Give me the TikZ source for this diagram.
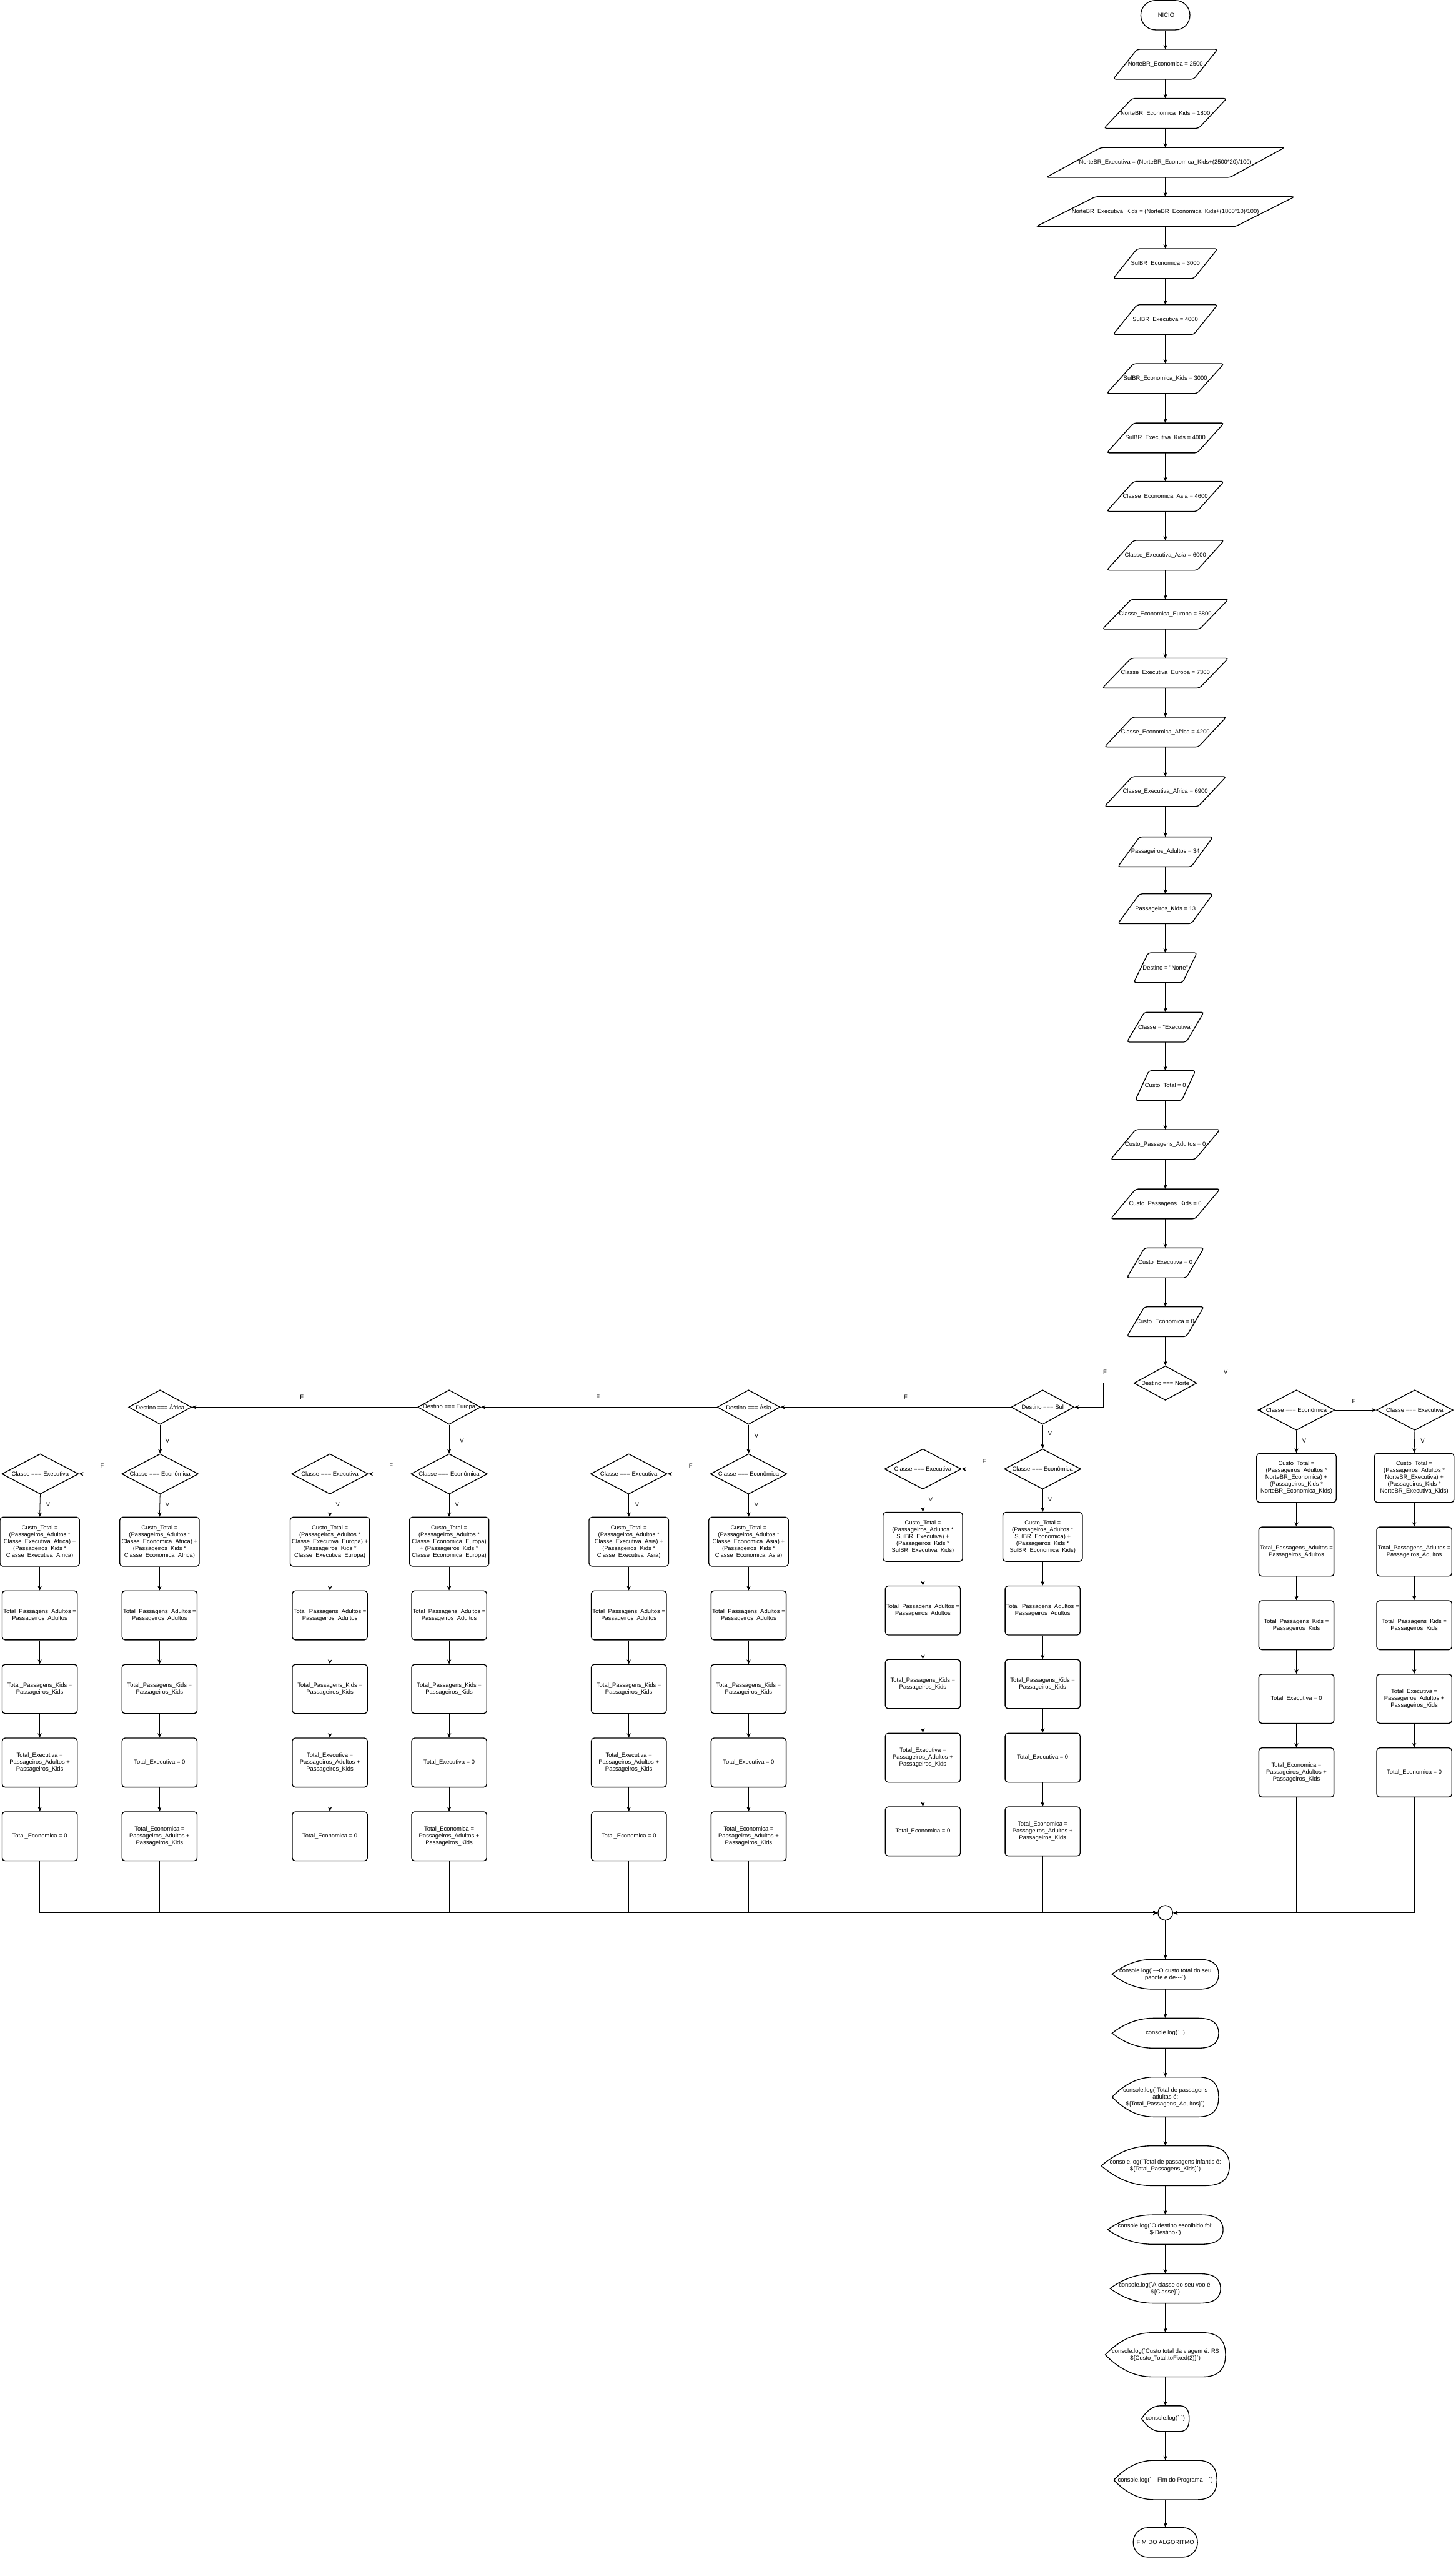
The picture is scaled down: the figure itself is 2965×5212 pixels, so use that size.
\documentclass[tikz,border=0pt]{standalone}
\usepackage{fontspec}
\setmainfont{Liberation Sans}[Ligatures=TeXOff]
\usetikzlibrary{arrows.meta,shapes.geometric,calc}
\newcommand\fs{\fontsize{6pt}{7pt}\selectfont}
% parallelogram: name, y, width(px), text
\newcommand\para[4]{%
  \node[txt, minimum width={#3*0.5pt}, minimum height=30pt] (#1) at (2374,#2) {#4};
  \draw[shp, rounded corners=2.5pt] ([xshift={0.115pt*#3}]#1.north west) -- (#1.north east)
     -- ([xshift={-0.115pt*#3}]#1.south east) -- (#1.south west) -- cycle;}
% display shape: name, y, w, h, text
\newcommand\disp[5]{%
  \node[txt, minimum width={#3*0.5pt}, minimum height={#4*0.5pt}] (#1) at (2374,#2) {#5};
  \begin{scope}[shift={(2374,#2)}]
  \draw[shp] ({-0.5*#3},0) .. controls ({-0.38*#3},{-#4/3}) and ({-0.25*#3},{-#4/2}) .. ({-0.11*#3},{-#4/2})
     -- ({0.31*#3},{-#4/2}) .. controls ({0.437*#3},{-#4/2}) and ({0.5*#3},{-#4/3}) .. ({0.5*#3},0)
     .. controls ({0.5*#3},{#4/3}) and ({0.437*#3},{#4/2}) .. ({0.31*#3},{#4/2})
     -- ({-0.11*#3},{#4/2}) .. controls ({-0.25*#3},{#4/2}) and ({-0.38*#3},{#4/3}) .. ({-0.5*#3},0) -- cycle;
  \end{scope}}
% column of five boxes: prefix, x, y, custo text, total exec, total econ
\newcommand\col[6]{%
  \node[cbox] (#1c) at (#2,#3) {#4};
  \node[box] (#1a) at (#2,#3+150) {Total\_Passagens\_Adultos =\\Passageiros\_Adultos};
  \node[box] (#1k) at (#2,#3+300) {Total\_Passagens\_Kids =\\Passageiros\_Kids};
  \node[box] (#1x) at (#2,#3+450) {#5};
  \node[box] (#1e) at (#2,#3+600) {#6};
  \draw[conn] (#1c) -- (#1a);
  \draw[conn] (#1a) -- (#1k);
  \draw[conn] (#1k) -- (#1x);
  \draw[conn] (#1x) -- (#1e);}
\newcommand\exzero{Total\_Executiva = 0}
\newcommand\exsum{Total\_Executiva =\\Passageiros\_Adultos +\\Passageiros\_Kids}
\newcommand\eczero{Total\_Economica = 0}
\newcommand\ecsum{Total\_Economica =\\Passageiros\_Adultos +\\Passageiros\_Kids}
\newcommand\custo[2]{Custo\_Total =\\(Passageiros\_Adultos *\\#1) +\\(Passageiros\_Kids *\\#2)}
\begin{document}
\begin{tikzpicture}[x=0.5pt,y=-0.5pt,
  shp/.style={draw=black, line width=0.85pt},
  txt/.style={font=\fs, align=center, inner sep=0pt, text=black},
  conn/.style={draw=black, line width=0.5pt, -{Stealth[length=4.5pt,width=4pt,inset=1.4pt]}},
  lbl/.style={font=\fs, inner sep=0pt, text=black},
  box/.style={shp, rounded corners=3pt, align=center, font=\fs, text=black, minimum width=76.5pt, minimum height=50pt, inner sep=0pt},
  cbox/.style={box, minimum width=81pt},
  dia/.style={shp, diamond, inner sep=0pt, minimum width=64pt, minimum height=35pt},
  cdia/.style={dia, minimum width=78pt, minimum height=41pt},
  term/.style={shp, rounded corners=14.9pt, minimum height=30pt, inner sep=0pt, font=\fs, text=black},
]
\fill[white] (0,0) rectangle (2965,5212);
\useasboundingbox (0,0) rectangle (2965,5212);

% ---------- main column ----------
\node[term, minimum width=50pt] (start) at (2374,31) {INICIO};
\para{p1}{131}{212}{NorteBR\_Economica = 2500}
\para{p2}{231}{249}{NorteBR\_Economica\_Kids = 1800}
\para{p3}{331}{485}{NorteBR\_Executiva = (NorteBR\_Economica\_Kids+(2500*20)/100)}
\para{p4}{431}{526}{NorteBR\_Executiva\_Kids = (NorteBR\_Economica\_Kids+(1800*10)/100)}
\para{p5}{537}{212}{SulBR\_Economica = 3000}
\para{p6}{651}{212}{SulBR\_Executiva = 4000}
\para{p7}{771}{238}{SulBR\_Economica\_Kids = 3000}
\para{p8}{892}{238}{SulBR\_Executiva\_Kids = 4000}
\para{p9}{1011}{238}{Classe\_Economica\_Asia = 4600}
\para{p10}{1131}{238}{Classe\_Executiva\_Asia = 6000}
\para{p11}{1251}{256}{Classe\_Economica\_Europa = 5800}
\para{p12}{1371}{256}{Classe\_Executiva\_Europa = 7300}
\para{p13}{1491}{247}{Classe\_Economica\_Africa = 4200}
\para{p14}{1612}{247}{Classe\_Executiva\_Africa = 6900}
\para{p15}{1735}{193}{Passageiros\_Adultos = 34}
\para{p16}{1851}{193}{Passageiros\_Kids = 13}
\para{p17}{1971}{128}{Destino = "Norte"}
\para{p18}{2092}{156}{Classe = "Executiva"}
\para{p19}{2211}{122}{Custo\_Total = 0}
\para{p20}{2331}{222}{Custo\_Passagens\_Adultos = 0}
\para{p21}{2452}{222}{Custo\_Passagens\_Kids = 0}
\para{p22}{2572}{156}{Custo\_Executiva = 0}
\para{p23}{2692}{156}{Custo\_Economica = 0}
\draw[conn] (start) -- (p1);
\foreach \a/\b in {p1/p2,p2/p3,p3/p4,p4/p5,p5/p6,p6/p7,p7/p8,p8/p9,p9/p10,p10/p11,p11/p12,p12/p13,p13/p14,p14/p15,p15/p16,p16/p17,p17/p18,p18/p19,p19/p20,p20/p21,p21/p22,p22/p23}
  \draw[conn] (\a.south) -- (\b.north);

% ---------- decisions ----------
\node[dia, label={[lbl]center:Destino === Norte}] (dn) at (2374,2817) {};
\draw[conn] (p23.south) -- (dn.north);
\node[dia, label={[lbl]center:Destino === Sul}] (dsul) at (2124,2866) {};
\node[dia, label={[lbl]center:Destino === Ásia}] (dasia) at (1525,2866) {};
\node[dia, label={[lbl]center:Destino === Europa}] (deur) at (915,2866) {};
\node[dia, label={[lbl]center:Destino === África}] (dafr) at (326,2866) {};

\node[cdia, label={[lbl]center:Classe === Econômica}] (neC) at (2641,2872) {};
\node[cdia, label={[lbl]center:Classe === Executiva}] (nxC) at (2882,2872) {};
\node[cdia, label={[lbl]center:Classe === Econômica}] (seC) at (2124,2992) {};
\node[cdia, label={[lbl]center:Classe === Executiva}] (sxC) at (1880,2992) {};
\node[cdia, label={[lbl]center:Classe === Econômica}] (aeC) at (1525,3002) {};
\node[cdia, label={[lbl]center:Classe === Executiva}] (axC) at (1281,3002) {};
\node[cdia, label={[lbl]center:Classe === Econômica}] (eeC) at (915,3002) {};
\node[cdia, label={[lbl]center:Classe === Executiva}] (exC) at (672,3002) {};
\node[cdia, label={[lbl]center:Classe === Econômica}] (feC) at (326,3002) {};
\node[cdia, label={[lbl]center:Classe === Executiva}] (fxC) at (82,3002) {};

% ---------- columns ----------
\col{NE}{2641}{3010}{\custo{NorteBR\_Economica}{NorteBR\_Economica\_Kids}}{\exzero}{\ecsum}
\col{NX}{2881}{3010}{\custo{NorteBR\_Executiva}{NorteBR\_Executiva\_Kids}}{\exsum}{\eczero}
\col{SE}{2124}{3130}{\custo{SulBR\_Economica}{SulBR\_Economica\_Kids}}{\exzero}{\ecsum}
\col{SX}{1880}{3130}{\custo{SulBR\_Executiva}{SulBR\_Executiva\_Kids}}{\exsum}{\eczero}
\col{AE}{1525}{3140}{\custo{Classe\_Economica\_Asia}{Classe\_Economica\_Asia}}{\exzero}{\ecsum}
\col{AX}{1281}{3140}{\custo{Classe\_Executiva\_Asia}{Classe\_Executiva\_Asia}}{\exsum}{\eczero}
\col{EE}{915}{3140}{Custo\_Total =\\(Passageiros\_Adultos *\\Classe\_Economica\_Europa)\\+ (Passageiros\_Kids *\\Classe\_Economica\_Europa)}{\exzero}{\ecsum}
\col{EX}{672}{3140}{\custo{Classe\_Executiva\_Europa}{Classe\_Executiva\_Europa}}{\exsum}{\eczero}
\col{FE}{325}{3140}{\custo{Classe\_Economica\_Africa}{Classe\_Economica\_Africa}}{\exzero}{\ecsum}
\col{FX}{81}{3140}{\custo{Classe\_Executiva\_Africa}{Classe\_Executiva\_Africa}}{\exsum}{\eczero}

% ---------- decision connectors ----------
\draw[conn] (dn.west) -- ++(-62,0) |- (dsul.east);
\draw[conn] (dn.east) -- ++(126,0) |- (neC.west);
\node[lbl] (lnF) at (2251,2795) {F};
\node[lbl] (lnV) at (2497,2795) {V};
\draw[conn] (neC.east) -- (nxC.west);
\node[lbl] (lneF) at (2758,2854) {F};
\draw[conn] (neC.south) -- (NEc.north);
\draw[conn] (nxC.south) -- (NXc.north);
\node[lbl] (lneV) at (2657,2935) {V};
\node[lbl] (lnxV) at (2898,2935) {V};

\draw[conn] (dsul.west) -- (dasia.east);
\node[lbl] (lsF) at (1845,2846) {F};
\draw[conn] (dsul.south) -- (seC.north);
\node[lbl] (lsV) at (2139,2919) {V};
\draw[conn] (seC.west) -- (sxC.east);
\node[lbl] (lseF) at (2005,2976) {F};
\draw[conn] (seC.south) -- (SEc.north);
\draw[conn] (sxC.south) -- (SXc.north);
\node[lbl] (lseV) at (2139,3054) {V};
\node[lbl] (lsxV) at (1896,3054) {V};

\draw[conn] (dasia.west) -- (deur.east);
\node[lbl] (laF) at (1218,2846) {F};
\draw[conn] (dasia.south) -- (aeC.north);
\node[lbl] (laV) at (1541,2925) {V};
\draw[conn] (aeC.west) -- (axC.east);
\node[lbl] (laeF) at (1407,2986) {F};
\draw[conn] (aeC.south) -- (AEc.north);
\draw[conn] (axC.south) -- (AXc.north);
\node[lbl] (laeV) at (1541,3065) {V};
\node[lbl] (laxV) at (1298,3065) {V};

\draw[conn] (deur.west) -- (dafr.east);
\node[lbl] (leF) at (615,2846) {F};
\draw[conn] (deur.south) -- (eeC.north);
\node[lbl] (leV) at (941,2935) {V};
\draw[conn] (eeC.west) -- (exC.east);
\node[lbl] (leeF) at (797,2986) {F};
\draw[conn] (eeC.south) -- (EEc.north);
\draw[conn] (exC.south) -- (EXc.north);
\node[lbl] (leeV) at (931,3065) {V};
\node[lbl] (lexV) at (688,3065) {V};

\draw[conn] (dafr.south) -- (feC.north);
\node[lbl] (lfV) at (341,2935) {V};
\draw[conn] (feC.west) -- (fxC.east);
\node[lbl] (lfeF) at (208,2986) {F};
\draw[conn] (feC.south) -- (FEc.north);
\draw[conn] (fxC.south) -- (FXc.north);
\node[lbl] (lfeV) at (341,3065) {V};
\node[lbl] (lfxV) at (98,3065) {V};

% ---------- merge ----------
\node[shp, circle, minimum size=15pt, inner sep=0pt] (mrg) at (2374,3896) {};
\foreach \c in {FX,FE,EX,EE,AX,AE,SX,SE}
  \draw[conn] (\c e.south) |- (mrg.west);
\foreach \c in {NE,NX}
  \draw[conn] (\c e.south) |- (mrg.east);

% ---------- output ----------
\disp{c1}{4021}{217}{61}{console.log(`---O custo total do seu\\pacote é de---`)}
\disp{c2}{4141}{217}{61}{console.log(` `)}
\disp{c3}{4271}{217}{81}{console.log(`Total de passagens\\adultas é:\\\$\{Total\_Passagens\_Adultos\}`)}
\disp{c4}{4411}{261}{81}{console.log(`Total de passagens infantis é:\\\$\{Total\_Passagens\_Kids\}`)}
\disp{c5}{4541}{235}{60}{console.log(`O destino escolhido foi:\\\$\{Destino\}`)}
\disp{c6}{4661}{225}{60}{console.log(`A classe do seu voo é:\\\$\{Classe\}`)}
\disp{c7}{4796}{245}{90}{console.log(`Custo total da viagem é: R\$\\\$\{Custo\_Total.toFixed(2)\}`)}
\disp{c8}{4926}{97}{52}{console.log(` `)}
\disp{c9}{5051}{210}{80}{console.log(`---Fim do Programa---`)}
\node[term, minimum width=65.5pt] (fim) at (2374,5178) {FIM DO ALGORITMO};
\draw[conn] (mrg.south) -- (c1.north);
\foreach \a/\b in {c1/c2,c2/c3,c3/c4,c4/c5,c5/c6,c6/c7,c7/c8,c8/c9,c9/fim}
  \draw[conn] (\a.south) -- (\b.north);
\end{tikzpicture}
\end{document}
